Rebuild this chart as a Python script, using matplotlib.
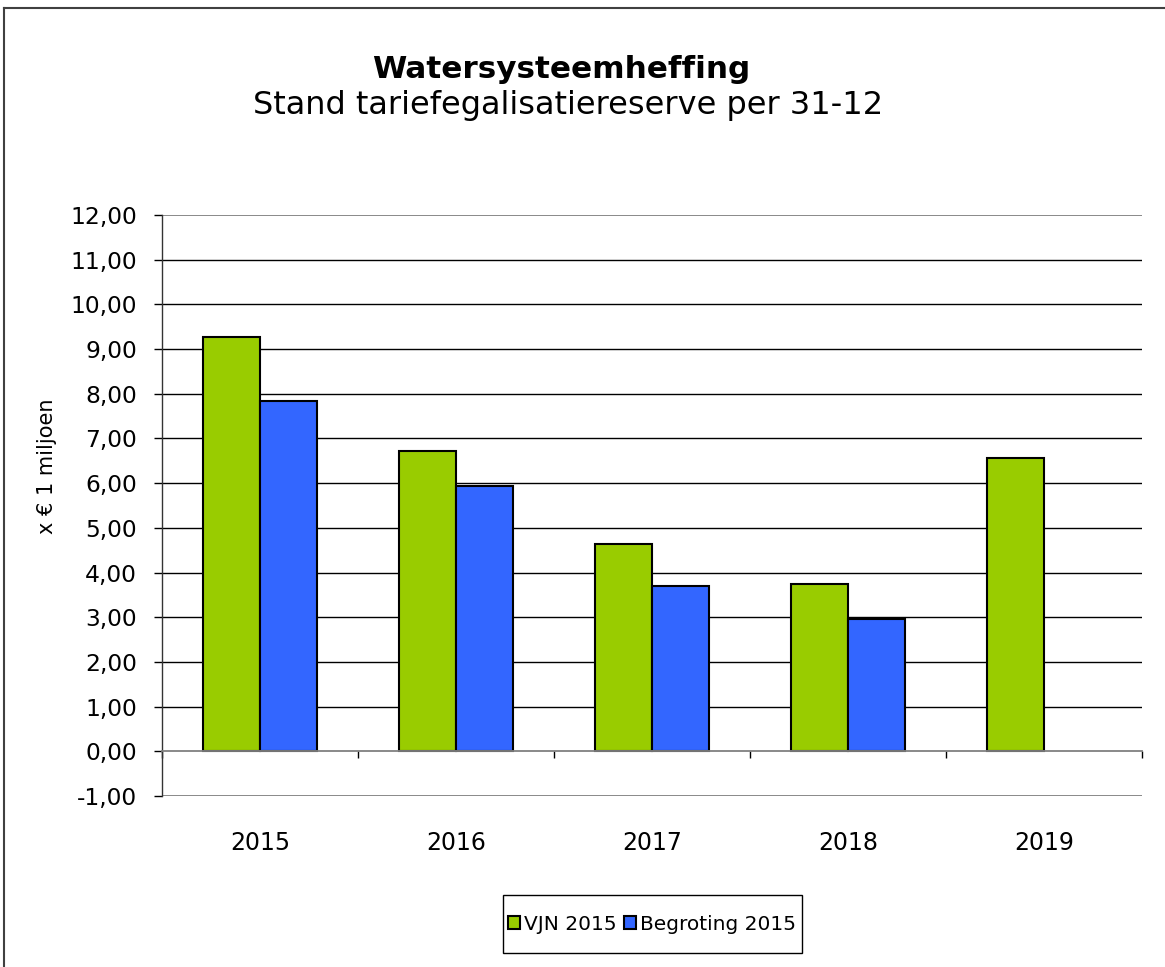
import matplotlib.pyplot as plt
import numpy as np
from matplotlib.lines import Line2D
from matplotlib.patches import Rectangle
from matplotlib.ticker import FuncFormatter

# data
years = ["2015", "2016", "2017", "2018", "2019"]
vjn_2015 = [9.28, 6.73, 4.64, 3.74, 6.56]
begroting_2015 = [7.84, 5.94, 3.69, 2.97, np.nan]

green = "#99CC00"
blue = "#3366FF"

fig = plt.figure(figsize=(11.65, 9.67), dpi=100)
ax = fig.add_axes([0.139, 0.1768, 0.841, 0.6009])

x = np.arange(len(years))
w = 0.29
ax.bar(x - w / 2, vjn_2015, w, color=green, edgecolor="black", linewidth=1.5, label="VJN 2015", zorder=3)
ax.bar(x + w / 2, begroting_2015, w, color=blue, edgecolor="black", linewidth=1.5, label="Begroting 2015", zorder=3)

ax.set_xlim(-0.5, len(years) - 0.5)
ax.set_ylim(-1, 12)

# horizontal grid lines, top and bottom ones gray
for v in range(-1, 13):
    if v == 0:
        continue
    c = "#808080" if v in (-1, 12) else "black"
    ax.axhline(v, color=c, linewidth=1.3 if v in (-1, 12) else 1.0, zorder=1)

for s in ["top", "right"]:
    ax.spines[s].set_visible(False)
ax.spines["left"].set_color("#333333")
ax.spines["left"].set_linewidth(1.0)
ax.spines["bottom"].set_position(("data", 0))
ax.spines["bottom"].set_color("#808080")
ax.spines["bottom"].set_linewidth(1.3)
ax.spines["bottom"].set_zorder(4)

ax.set_yticks(range(-1, 13))
ax.yaxis.set_major_formatter(FuncFormatter(lambda v, p: f"{v:.2f}".replace(".", ",")))
ax.tick_params(axis="y", length=6, width=1.0, labelsize=16.8, pad=12)

ax.set_xticks(np.arange(len(years) + 1) - 0.5)
ax.set_xticklabels([])
ax.set_xticks(x, minor=True)
ax.set_xticklabels(years, minor=True)
ax.tick_params(axis="x", which="major", length=5, width=1.0, direction="out", color="black")
ax.tick_params(axis="x", which="minor", length=0, labelsize=17, pad=57)

fig.text(47 / 1165, 1 - 466 / 967, "x € 1 miljoen", rotation=90, ha="center", va="center", fontsize=15)

fig.text(0.482, 0.928, "Watersysteemheffing", ha="center", va="center", fontsize=22.4, fontweight="bold")
fig.text(0.488, 0.891, "Stand tariefegalisatiereserve per 31-12", ha="center", va="center", fontsize=23)

# legend box drawn separately
fig.add_artist(Rectangle((503 / 1165, 1 - 953 / 967), 299 / 1165, 58 / 967, transform=fig.transFigure,
                         facecolor="white", edgecolor="black", linewidth=1.0))
leg = fig.legend(loc="center", bbox_to_anchor=(652 / 1165, 1 - 924 / 967), ncol=2, fontsize=14.5,
                 frameon=False, handlelength=0.6, handleheight=0.6, handletextpad=0.2,
                 columnspacing=0.4, borderpad=0, borderaxespad=0)

# outer frame, only top and left visible in the picture
fig.add_artist(Line2D([4 / 1165, 4 / 1165], [0, 1 - 8 / 967], color="#404040", linewidth=1.5, transform=fig.transFigure))
fig.add_artist(Line2D([4 / 1165, 1], [1 - 8 / 967, 1 - 8 / 967], color="#404040", linewidth=1.5, transform=fig.transFigure))

fig.savefig("out.png", dpi=100)
